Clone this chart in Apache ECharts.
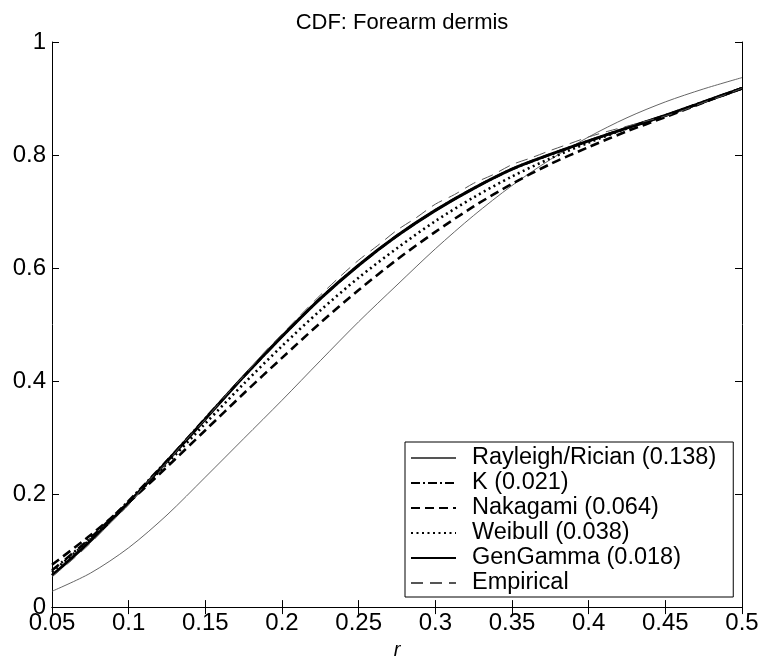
<!DOCTYPE html>
<html><head><meta charset="utf-8">
<script src="https://cdn.jsdelivr.net/npm/echarts@6/dist/echarts.min.js"></script>
<style>html,body{margin:0;padding:0;background:#fff}#c{width:764px;height:665px}</style>
</head><body><div id="c"></div>
<script>
var rGrid = [0.05,0.075,0.1,0.125,0.15,0.175,0.2,0.225,0.25,0.275,0.3,0.325,0.35,0.375,0.4,0.425,0.45,0.475,0.5];
var rayleigh = [0.028,0.060,0.105,0.163,0.230,0.298,0.366,0.436,0.505,0.570,0.634,0.693,0.746,0.792,0.832,0.866,0.894,0.917,0.937];
var kDist    = [0.065,0.122,0.188,0.259,0.334,0.408,0.479,0.546,0.605,0.657,0.702,0.741,0.775,0.801,0.825,0.848,0.870,0.894,0.918];
var nakagami = [0.075,0.127,0.185,0.248,0.313,0.378,0.441,0.503,0.561,0.615,0.664,0.709,0.749,0.784,0.814,0.842,0.867,0.893,0.918];
var weibull  = [0.062,0.120,0.185,0.254,0.325,0.395,0.462,0.525,0.583,0.635,0.683,0.725,0.762,0.794,0.822,0.847,0.870,0.894,0.918];
var genGamma = [0.056,0.117,0.185,0.258,0.333,0.408,0.479,0.546,0.605,0.657,0.702,0.741,0.775,0.801,0.825,0.848,0.870,0.894,0.918];
var rEmp = [0.05,0.0625,0.075,0.0875,0.1,0.1125,0.125,0.1375,0.15,0.1625,0.175,0.1875,0.2,0.2125,0.225,0.2375,0.25,0.2625,0.275,0.2875,0.3,0.3125,0.325,0.3375,0.35,0.3625,0.375,0.3875,0.4,0.4125,0.425,0.4375,0.45,0.4625,0.475,0.4875,0.5];
var empirical = [0.054,0.082,0.113,0.148,0.181,0.222,0.256,0.296,0.332,0.372,0.409,0.448,0.483,0.518,0.552,0.584,0.614,0.640,0.667,0.689,0.713,0.730,0.750,0.765,0.783,0.795,0.808,0.820,0.832,0.842,0.851,0.860,0.869,0.880,0.893,0.905,0.918];
var xTicks = ['0.05','0.1','0.15','0.2','0.25','0.3','0.35','0.4','0.45','0.5'];
var yTicks = ['0','0.2','0.4','0.6','0.8','1'];
var names = ['Rayleigh/Rician (0.138)','K (0.021)','Nakagami (0.064)','Weibull (0.038)','GenGamma (0.018)','Empirical'];

function pairs(xs, ys){ return xs.map(function(x,i){return [x, ys[i]];}); }
var font = 'Liberation Sans, Arial, sans-serif';
function fmtX(v){ var i = Math.round((v - 0.05) / 0.05); return xTicks[i] !== undefined ? xTicks[i] : ''; }
function fmtY(v){ var i = Math.round(v / 0.2); return yTicks[i] !== undefined ? yTicks[i] : ''; }

var chart = echarts.init(document.getElementById('c'), null, {renderer:'canvas'});
var baseX = {type:'value', min:0.05, max:0.5, interval:0.05, splitLine:{show:false},
  axisLine:{show:true, lineStyle:{color:'#000', width:1}}, axisTick:{inside:true, length:7, lineStyle:{color:'#000'}}};
var baseY = {type:'value', min:0, max:1, interval:0.2, splitLine:{show:false},
  axisLine:{show:true, lineStyle:{color:'#000', width:1}}, axisTick:{inside:true, length:7, lineStyle:{color:'#000'}}};
function ser(name, data, ls){
  return {name:name, type:'line', data:data, showSymbol:false, symbol:'none', smooth:0.3, lineStyle:ls, itemStyle:{color:ls.color}, z: ls.z||2, animation:false};
}
chart.setOption({
  animation:false,
  title:{text:'CDF: Forearm dermis', left:397, textAlign:'center', top:7, textStyle:{fontFamily:font, fontSize:22, fontWeight:'normal', color:'#000'}},
  grid:{left:52, right:22, top:42, bottom:55, show:false},
  xAxis:[
    Object.assign({}, baseX, {position:'bottom', name:'r', nameLocation:'middle', nameGap:28,
      nameTextStyle:{fontFamily:font, fontStyle:'italic', fontSize:20, color:'#000'},
      axisLabel:{fontFamily:font, fontSize:24, color:'#000', margin:4, formatter:fmtX}}),
    Object.assign({}, baseX, {position:'top', axisLabel:{show:false}})
  ],
  yAxis:[
    Object.assign({}, baseY, {position:'left', axisLabel:{fontFamily:font, fontSize:24, color:'#000', margin:6, formatter:fmtY}}),
    Object.assign({}, baseY, {position:'right', axisLabel:{show:false}})
  ],
  legend:{orient:'vertical', left:405, top:442, itemWidth:45, itemHeight:14, itemGap:1.0,
    padding:[4,17,2,5], borderColor:'#000', borderWidth:1, backgroundColor:'#fff',
    itemStyle:{opacity:0},
    textStyle:{fontFamily:font, fontSize:23.5, color:'#000', padding:[0,0,0,11]},
    data:names},
  series:[
    ser(names[0], pairs(rGrid, rayleigh), {color:'#555', width:0.9, type:'solid'}),
    ser(names[1], pairs(rGrid, kDist), {color:'#000', width:2.6, type:[9,3,2,3]}),
    ser(names[2], pairs(rGrid, nakagami), {color:'#000', width:2.6, type:[9,5]}),
    ser(names[3], pairs(rGrid, weibull), {color:'#000', width:2.6, type:[2,3.5]}),
    ser(names[4], pairs(rGrid, genGamma), {color:'#000', width:3, type:'solid', z:3}),
    ser(names[5], pairs(rEmp, empirical), {color:'#555', width:1, type:[12,7], z:4})
  ]
});
</script></body></html>
